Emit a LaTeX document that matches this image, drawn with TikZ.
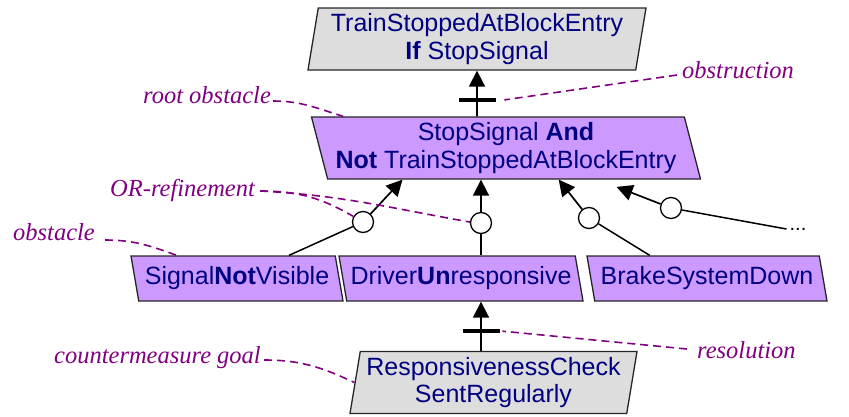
\documentclass[tikz,border=0pt]{standalone}
\usepackage{fontspec}
\setmainfont{Liberation Serif}
\setsansfont{Liberation Sans}
\usetikzlibrary{shapes.geometric,arrows.meta}
\definecolor{ObstacleFill}{HTML}{CC99FF}
\definecolor{GoalFill}{HTML}{DDDDDD}
\definecolor{LabelBlue}{HTML}{000080}
\definecolor{NotePurple}{HTML}{800080}

\begin{document}
\begin{tikzpicture}[x=1pt,y=1pt]
	\useasboundingbox (0,0) rectangle (849,-416);
	\tikzstyle{Box}=[trapezium, trapezium stretches body, draw=black!85, line width=1.3pt, text=LabelBlue, font=\sffamily\fontsize{25}{27.5}\selectfont, align=center, inner xsep=0pt, inner ysep=1pt]
	\tikzstyle{Goal}=[Box, fill=GoalFill, trapezium left angle=79, trapezium right angle=101, minimum height=62pt]
	\tikzstyle{Obstacle}=[Box, fill=ObstacleFill, trapezium left angle=107, trapezium right angle=73]
	\tikzstyle{Refinement}=[circle, draw, fill=white, line width=1.3pt, minimum size=21pt, inner sep=0pt]
	\tikzstyle{Link}=[line width=1.7pt, -{Triangle[length=16pt,width=16pt]}]
	\tikzstyle{Plain}=[line width=1.5pt]
	\tikzstyle{Bar}=[fill=black, minimum width=37pt, minimum height=4.5pt, inner sep=0pt]
	\tikzstyle{Note}=[text=NotePurple, font=\itshape\fontsize{24.5}{24.5}\selectfont, anchor=base west, inner sep=0pt]
	\tikzstyle{NoteLine}=[NotePurple, line width=1.6pt, dash pattern=on 8pt off 5pt]
	\node[Goal, minimum width=338pt] (top) at (477,-39) {TrainStoppedAtBlockEntry\\\textbf{If} StopSignal};
	\node[Obstacle, minimum width=389pt, minimum height=62pt] (root) at (506,-148) {StopSignal \textbf{And}\\\textbf{Not} TrainStoppedAtBlockEntry};
	\node[Obstacle, minimum width=212pt, minimum height=45pt] (notvisible) at (237,-278.5) {Signal\textbf{Not}Visible};
	\node[Obstacle, minimum width=244pt, minimum height=45pt] (unresponsive) at (461,-278.5) {Driver\textbf{Un}responsive};
	\node[Obstacle, minimum width=240pt, minimum height=45pt] (brakedown) at (707,-278.5) {BrakeSystemDown};
	\node[Goal, minimum width=287pt] (check) at (493.5,-382.5) {ResponsivenessCheck\\SentRegularly};
	\node[Refinement] (or1) at (363,-222) {};
	\node[Refinement] (or2) at (481,-223) {};
	\node[Refinement] (or3) at (589,-218) {};
	\node[Refinement] (or4) at (671,-208) {};
	\node[font=\sffamily\fontsize{20}{20}\selectfont, inner sep=3pt] (more) at (798,-229) {...};
	\draw[Link] (top |- root.north) -- node[Bar, pos=0.36] (obstruct) {} (top);
	\draw[Link] (or1) -- (root.197);
	\draw[Link] (or2) -- (or2 |- root.south);
	\draw[Link] (or3) -- (root.-31);
	\draw[Link, shorten >=20pt] (or4) -- (root.-19);
	\draw[Plain] (notvisible.24) -- (or1);
	\draw[Plain] (or2 |- unresponsive.north) -- (or2);
	\draw[Plain] (brakedown.158) -- (or3);
	\draw[Plain] (more.west) -- (or4);
	\draw[Link] (or2 |- check.north) -- node[Bar, pos=0.4] (resolve) {} (or2 |- unresponsive.south);
	\node[Note] (rootnote) at (143,-103) {root obstacle};
	\node[Note] (obsnote) at (682,-78) {obstruction};
	\node[Note] (ornote) at (110,-196) {OR-refinement};
	\node[Note] (leafnote) at (13,-240) {obstacle};
	\node[Note] (cmnote) at (54,-363) {countermeasure goal};
	\node[Note] (resnote) at (697,-358) {resolution};
	\draw[NoteLine] ([xshift=2pt,yshift=2pt]rootnote.base east) to[out=0,in=163] (root.169);
	\draw[NoteLine] ([xshift=-5pt,yshift=3pt]obsnote.base west) -- ([xshift=8pt]obstruct.east);
	\draw[NoteLine] ([xshift=5pt,yshift=5pt]ornote.base east) to[out=0,in=150] (or1.150);
	\draw[NoteLine] ([xshift=5pt,yshift=5pt]ornote.base east) to[out=-3,in=170] (or2.175);
	\draw[NoteLine] ([xshift=10pt]leafnote.base east) to[out=0,in=160] (notvisible.159);
	\draw[NoteLine] ([xshift=3pt,yshift=3pt]cmnote.base east) to[out=0,in=155] (check.west);
	\draw[NoteLine] ([xshift=-10pt,yshift=9pt]resnote.base west) -- ([xshift=2pt]resolve.east);
\end{tikzpicture}
\end{document}
